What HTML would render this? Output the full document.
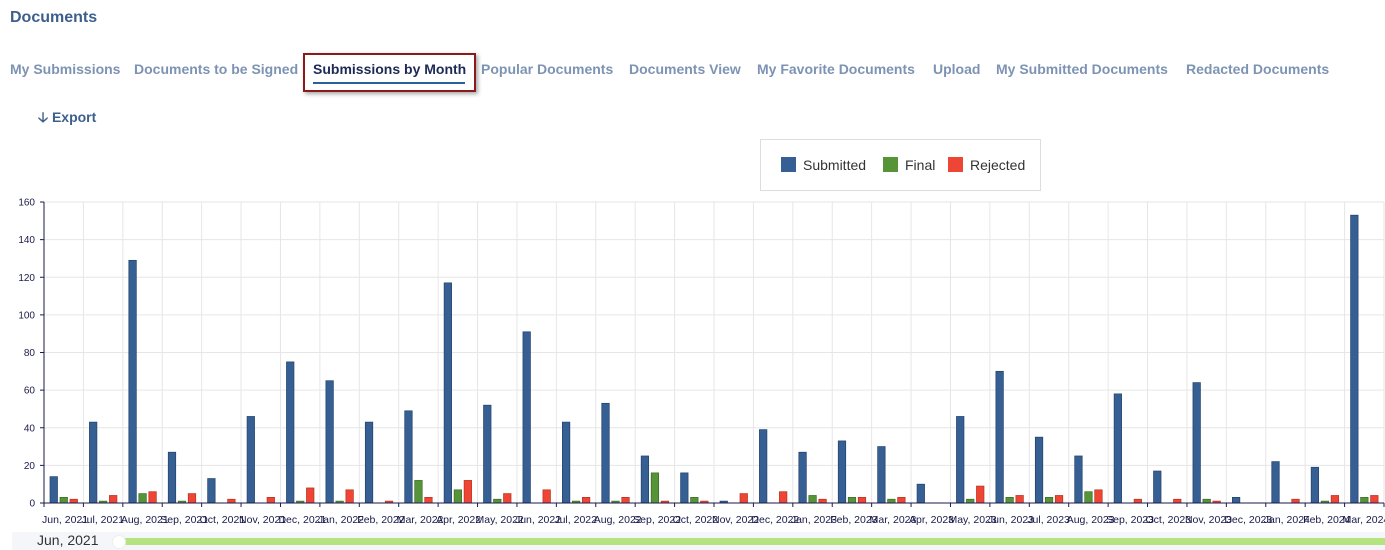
<!DOCTYPE html>
<html><head><meta charset="utf-8"><style>
body{margin:0;width:1385px;height:550px;background:#fff;font-family:"Liberation Sans",sans-serif;position:relative;overflow:hidden}
.a{position:absolute;white-space:nowrap}
.tab{position:absolute;top:61px;font-size:14px;font-weight:bold;color:#7d93b3}
</style></head><body>
<div class="a" style="left:10px;top:9px;font-size:16px;font-weight:bold;color:#3d5f8e">Documents</div>
<span class="tab" style="left:10px">My Submissions</span>
<span class="tab" style="left:134px">Documents to be Signed</span>
<div class="a" style="left:303px;top:53px;width:169px;height:35px;border:2px solid #8b1a1a;box-shadow:2px 2px 4px rgba(0,0,0,.35)"></div>
<span class="tab" style="left:313px;color:#1d2a56">Submissions by Month</span>
<div class="a" style="left:313px;top:82px;width:152px;height:2px;background:#2f5f9a"></div>
<span class="tab" style="left:481px">Popular Documents</span>
<span class="tab" style="left:629px">Documents View</span>
<span class="tab" style="left:757px">My Favorite Documents</span>
<span class="tab" style="left:933px">Upload</span>
<span class="tab" style="left:996px">My Submitted Documents</span>
<span class="tab" style="left:1186px">Redacted Documents</span>
<div class="a" style="left:38px;top:107px;font-size:14px;font-weight:bold;color:#3d5f8e">&#129123; Export</div>
<div class="a" style="left:760px;top:139px;width:279px;height:50px;border:1px solid #ddd"></div>
<div class="a" style="left:781px;top:157px;width:15px;height:15px;background:#365f93"></div>
<div class="a" style="left:803px;top:157px;font-size:14px;color:#333">Submitted</div>
<div class="a" style="left:883px;top:157px;width:15px;height:15px;background:#559538"></div>
<div class="a" style="left:905px;top:157px;font-size:14px;color:#333">Final</div>
<div class="a" style="left:948px;top:157px;width:15px;height:15px;background:#ef4535"></div>
<div class="a" style="left:970px;top:157px;font-size:14px;color:#333">Rejected</div>
<svg id="c" class="a" style="left:0;top:0" width="1385" height="550" font-family="Liberation Sans, sans-serif"></svg>
<div class="a" style="left:12px;top:532px;width:1373px;height:18px;background:#f5f6f9"></div>
<div class="a" style="left:37px;top:532px;font-size:14px;color:#333">Jun, 2021</div>
<div class="a" style="left:118px;top:538px;width:1267px;height:7px;background:#b5e380"></div>
<div class="a" style="left:112px;top:535px;width:12px;height:12px;border-radius:50%;background:#fff;border:1px solid #eee"></div>
<script>
var d=[[14,3,2],[43,1,4],[129,5,6],[27,1,5],[13,0,2],[46,0,3],[75,1,8],[65,1,7],[43,0,1],[49,12,3],[117,7,12],[52,2,5],[91,0,7],[43,1,3],[53,1,3],[25,16,1],[16,3,1],[1,0,5],[39,0,6],[27,4,2],[33,3,3],[30,2,3],[10,0,0],[46,2,9],[70,3,4],[35,3,4],[25,6,7],[58,0,2],[17,0,2],[64,2,1],[3,0,0],[22,0,2],[19,1,4],[153,3,4]];
var labels=["Jun, 2021","Jul, 2021","Aug, 2021","Sep, 2021","Oct, 2021","Nov, 2021","Dec, 2021","Jan, 2022","Feb, 2022","Mar, 2022","Apr, 2022","May, 2022","Jun, 2022","Jul, 2022","Aug, 2022","Sep, 2022","Oct, 2022","Nov, 2022","Dec, 2022","Jan, 2023","Feb, 2023","Mar, 2023","Apr, 2023","May, 2023","Jun, 2023","Jul, 2023","Aug, 2023","Sep, 2023","Oct, 2023","Nov, 2023","Dec, 2023","Jan, 2024","Feb, 2024","Mar, 2024"];
var s='',x0=44,x1=1384,y0=503,k=301/160,w=(x1-x0)/34,cols=["#365f93","#559538","#ef4535"],bd=["#24416a","#3b6b26","#b8301f"];
for(var v=0;v<=160;v+=20){var y=y0-v*k;s+='<line x1="'+x0+'" x2="'+x1+'" y1="'+y+'" y2="'+y+'" stroke="#e6e6e6"/><line x1="40" x2="44" y1="'+y+'" y2="'+y+'" stroke="#1a1a4a"/><text x="35" y="'+(y+3.5)+'" font-size="10" text-anchor="end" fill="#1a1a4a">'+v+'</text>';}
for(var i=0;i<=34;i++){var x=x0+i*w;s+='<line x1="'+x+'" x2="'+x+'" y1="202" y2="'+y0+'" stroke="#e6e6e6"/><line x1="'+x+'" x2="'+x+'" y1="'+y0+'" y2="'+(y0+4)+'" stroke="#1a1a4a"/>';}
for(var i=0;i<34;i++){var x=x0+i*w;for(var j=0;j<3;j++){var h=d[i][j]*k;if(h>0)s+='<rect x="'+(x+6+j*10)+'" y="'+(y0-h)+'" width="7.5" height="'+h+'" fill="'+cols[j]+'" stroke="'+bd[j]+'" stroke-width="0.7"/>';}
s+='<text x="'+(x-2)+'" y="523" font-size="10.5" fill="#1a1a4a">'+labels[i]+'</text>';}
s+='<line x1="'+x0+'" x2="'+x0+'" y1="202" y2="'+y0+'" stroke="#1a1a4a"/><line x1="'+x0+'" x2="'+x1+'" y1="'+y0+'" y2="'+y0+'" stroke="#1a1a4a"/>';
document.getElementById('c').innerHTML=s;
</script>
</body></html>
